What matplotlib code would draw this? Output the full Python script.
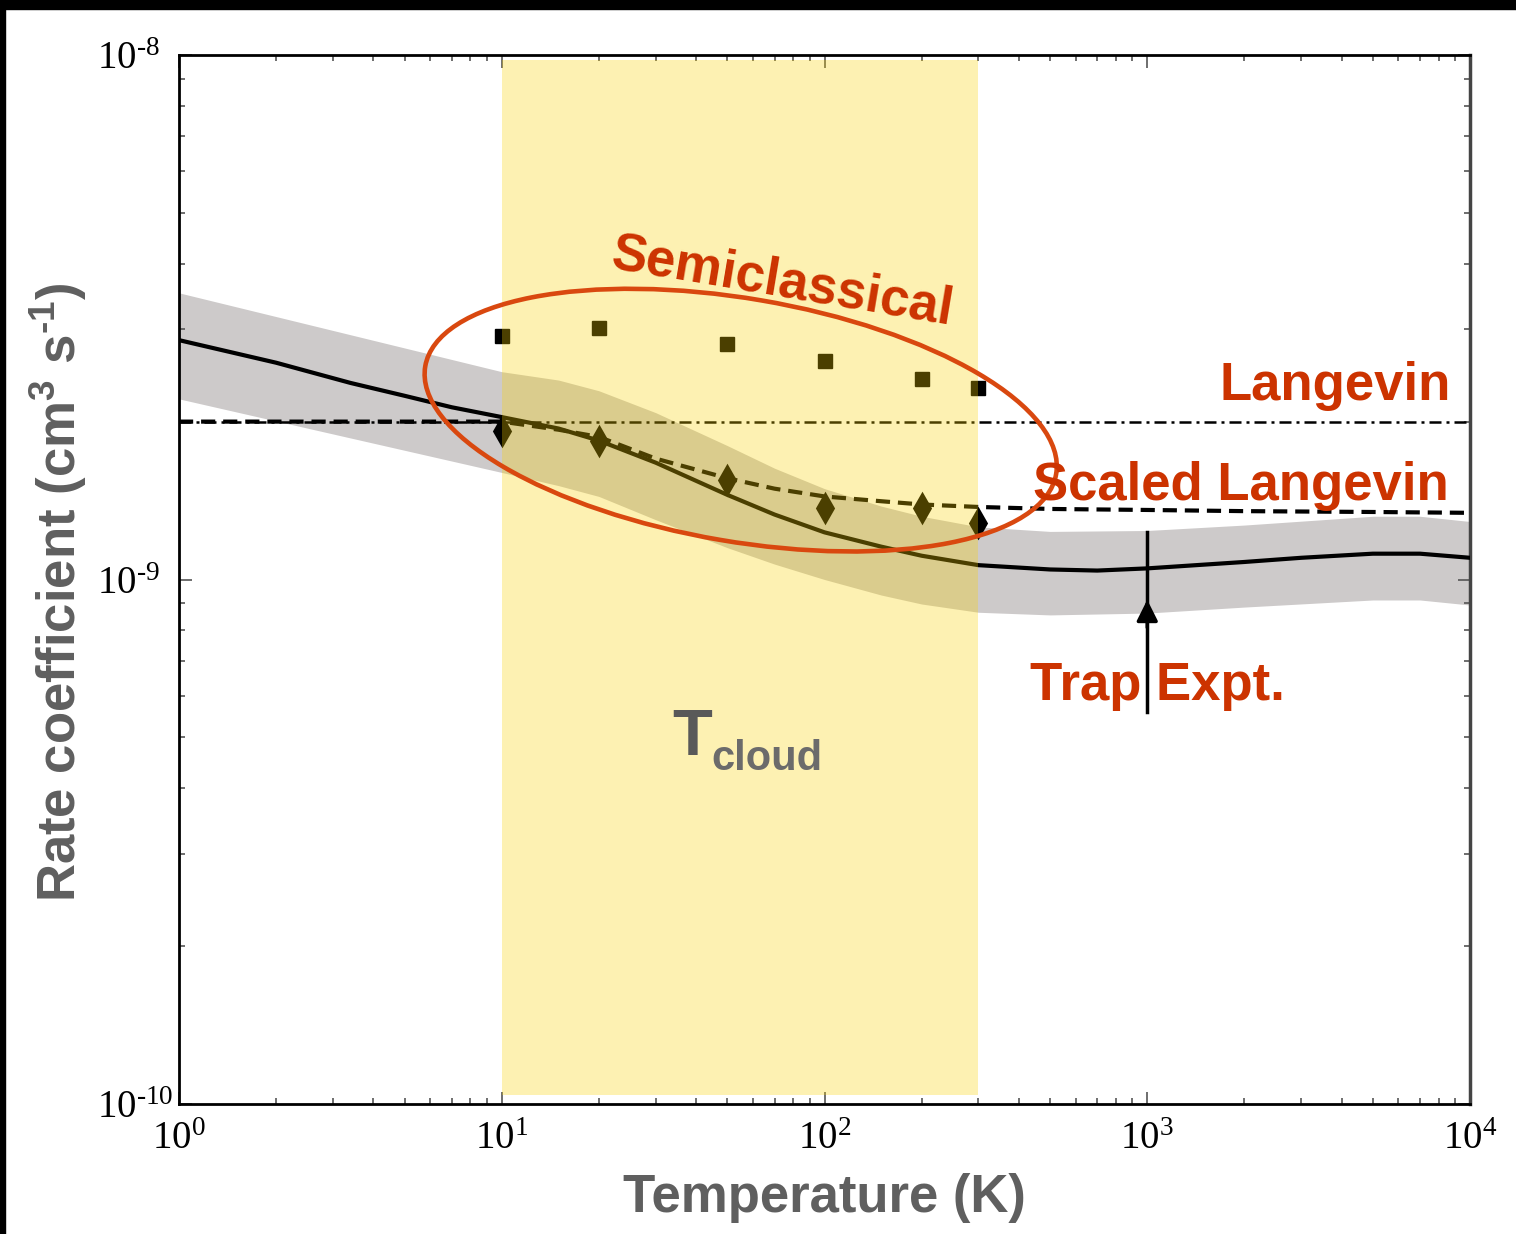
import math
import matplotlib
matplotlib.use("Agg")
import matplotlib.pyplot as plt
from matplotlib.patches import Ellipse, Rectangle
from matplotlib.transforms import ScaledTranslation
from matplotlib.ticker import FuncFormatter, LogLocator, NullFormatter

# ---- data ----
# fitted rate coefficient (solid line), units of 1e-9 cm3 s-1
T_fit = [1, 2, 3.4, 5, 7, 10, 15, 20, 30, 50, 70, 100, 150, 200, 300, 500,
         700, 1000, 2000, 3000, 5000, 7000, 10000]
k_fit = [2.86, 2.59, 2.37, 2.24, 2.13, 2.04, 1.94, 1.84, 1.67, 1.45, 1.33,
         1.23, 1.155, 1.11, 1.065, 1.045, 1.04, 1.05, 1.08, 1.10, 1.12,
         1.12, 1.10]

# uncertainty band around the fit
T_band = [1, 10, 15, 20, 30, 50, 70, 100, 150, 200, 300, 500, 1000, 2000,
          5000, 7000, 10000]
k_band_hi = [3.52, 2.49, 2.40, 2.29, 2.08, 1.80, 1.63, 1.49, 1.38, 1.32,
             1.26, 1.235, 1.24, 1.27, 1.32, 1.32, 1.29]
k_band_lo = [2.21, 1.60, 1.51, 1.44, 1.30, 1.15, 1.07, 1.00, 0.934, 0.898,
             0.866, 0.856, 0.863, 0.886, 0.914, 0.914, 0.894]

# Langevin and scaled Langevin
T_lang = [1, 10000]
k_lang = [2.0, 2.0]
T_scaled = [1, 10, 15, 20, 30, 50, 70, 100, 150, 200, 300, 500, 1000,
            2000, 5000, 10000]
k_scaled = [2.0, 2.0, 1.93, 1.87, 1.70, 1.56, 1.49, 1.44, 1.41, 1.39,
            1.375, 1.363, 1.357, 1.35, 1.345, 1.34]

# semiclassical results
T_semi = [10, 20, 50, 100, 200, 300]
k_semi_sq = [2.91, 3.02, 2.81, 2.61, 2.41, 2.32]
k_semi_dia = [1.92, 1.84, 1.55, 1.37, 1.37, 1.28]

# trap experiment temperature
T_trap = 1000

scale = 1e-9
red = "#CC3300"
hyph = "\u2010"

fig = plt.figure(figsize=(15.16, 12.34), dpi=100)
ax = fig.add_axes([179 / 1516, 1 - 1104 / 1234, 1291 / 1516, 1049 / 1234])

ax.fill_between(T_band, [v * scale for v in k_band_lo],
                [v * scale for v in k_band_hi], color="#CDCACA", lw=0, zorder=1)
ax.plot(T_fit, [v * scale for v in k_fit], color="black", lw=3, zorder=3)
ax.plot(T_lang, [v * scale for v in k_lang], color="black", lw=1.8,
        linestyle=(0, (4.8, 2.0, 1.2, 2.0)), zorder=3)
ax.plot(T_scaled, [v * scale for v in k_scaled], color="black", lw=3,
        linestyle=(0, (3.4, 1.9)), zorder=3)
ax.plot(T_semi, [v * scale for v in k_semi_sq], "s", color="black", ms=10,
        zorder=3)
ax.plot(T_semi, [v * scale for v in k_semi_dia], "d", ls="none",
        color="black", ms=14, mew=2, zorder=3)

# trap experiment marker
ax.plot([T_trap, T_trap], [0.559e-9, 1.232e-9], color="black", lw=2.5, zorder=3)
ax.annotate("", xy=(T_trap, 0.926e-9), xytext=(T_trap, 0.80e-9),
            arrowprops=dict(arrowstyle="-|>", color="black", lw=2.5,
                            mutation_scale=32), zorder=3)

# cloud temperature range (drawn on top, translucent)
ax.axvspan(10, 300, ymin=0.0086, ymax=0.995, color="#FAD200", alpha=0.3,
           lw=0, zorder=4)

# ellipse around the semiclassical points
ell_tr = fig.dpi_scale_trans + ScaledTranslation(55, 2.013e-9, ax.transData)
ax.add_patch(Ellipse((0, 0), 6.4, 2.43, angle=-9.7, transform=ell_tr,
                     fill=False, edgecolor="#D9480F", lw=3.3, zorder=5,
                     clip_on=False))

txt = dict(color=red, fontsize=38, fontweight="bold",
           family="Liberation Sans", zorder=6)
ax.text(74, 3.69e-9, "Semiclassical", rotation=-9.5, ha="center",
        va="center", rotation_mode="anchor", **txt)
ax.text(8730, 2.198e-9, "Langevin", ha="right", va="baseline", **txt)
ax.text(8610, 1.418e-9, "Scaled Langevin", ha="right", va="baseline", **txt)
ax.text(433, 5.89e-10, "Trap Expt.", ha="left", va="baseline", **txt)

ax.text(33.8, 4.63e-10, "T", color="#595959", fontsize=47,
        fontweight="bold", family="Liberation Sans", va="baseline", zorder=6)
ax.text(44.7, 4.33e-10, "cloud", color="#6b6b6b", fontsize=30,
        fontweight="bold", family="Liberation Sans", va="baseline", zorder=6)

# axes
ax.set_xscale("log")
ax.set_yscale("log")
ax.set_xlim(1, 1e4)
ax.set_ylim(1e-10, 1e-8)


def fmt(v, pos):
    e = int(round(math.log10(v)))
    # short hyphen instead of the wide math minus
    return r"$\mathregular{10^{%s}}$" % str(e).replace("-", hyph)


ax.xaxis.set_major_formatter(FuncFormatter(fmt))
ax.yaxis.set_major_formatter(FuncFormatter(fmt))
ax.xaxis.set_minor_formatter(NullFormatter())
ax.yaxis.set_minor_formatter(NullFormatter())
ax.xaxis.set_minor_locator(LogLocator(base=10, subs=range(2, 10)))
ax.yaxis.set_minor_locator(LogLocator(base=10, subs=range(2, 10)))
ax.tick_params(which="both", direction="in", top=True, right=True,
               color="#555555", width=1.2)
ax.tick_params(which="major", length=9, labelsize=28)
ax.tick_params(axis="x", which="major", pad=12)
ax.tick_params(axis="y", which="major", pad=59)
ax.tick_params(which="minor", length=4.5)
for lab in ax.get_xticklabels() + ax.get_yticklabels():
    lab.set_family(["Liberation Serif", "DejaVu Serif"])
for lab in ax.get_yticklabels():
    lab.set_horizontalalignment("left")
for side in ["left", "bottom", "top"]:
    ax.spines[side].set_linewidth(2)
    ax.spines[side].set_color("black")
ax.spines["right"].set_linewidth(2.5)
ax.spines["right"].set_color("#444444")

ax.set_xlabel("Temperature (K)", fontsize=38, fontweight="bold",
              color="#5f5f5f", family="Liberation Sans")
ax.xaxis.set_label_coords(0.5, -0.066)
ax.set_ylabel(r"Rate coefficient (cm$\mathregular{^{3}}$ s$\mathregular{^{%s1}}$)"
              % hyph, fontsize=38, fontweight="bold", color="#5f5f5f",
              family=["Liberation Sans", "DejaVu Sans"])
ax.yaxis.set_label_coords(-0.070, 0.488)

# black frame strips at top and left edge of the original image
fig.patches.append(Rectangle((0, 1 - 9 / 1234), 1, 9 / 1234, color="black",
                             transform=fig.transFigure, figure=fig))
fig.patches.append(Rectangle((0, 0), 5 / 1516, 1, color="black",
                             transform=fig.transFigure, figure=fig))

fig.savefig("out.png", dpi=100, facecolor="white")
